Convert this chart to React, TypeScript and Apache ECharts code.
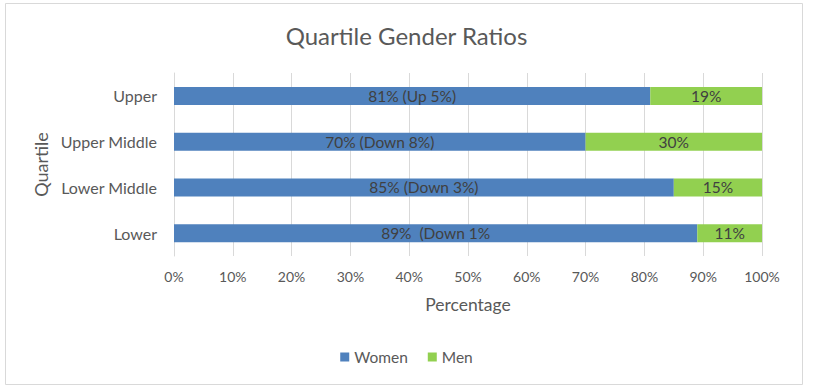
import React, { useEffect, useRef } from "react";
import * as echarts from "echarts";

const categories = ["Upper", "Upper Middle", "Lower Middle", "Lower"];
const womenValues = [81, 70, 85, 89];
const menValues = [19, 30, 15, 11];
const womenLabels = ["81% (Up 5%)", "70% (Down 8%)", "85% (Down 3%)", "89%  (Down 1%"];
const menLabels = ["19%", "30%", "15%", "11%"];
const xTicks = [0, 10, 20, 30, 40, 50, 60, 70, 80, 90, 100];

const FONT = "Lato";
const TXT = "#595959";

export default function App() {
  const ref = useRef<HTMLDivElement>(null);
  useEffect(() => {
    document.body.style.margin = "0";
    const chart = echarts.init(ref.current!, undefined, { renderer: "svg" });
    chart.setOption({
      animation: false,
      backgroundColor: "#ffffff",
      textStyle: { fontFamily: FONT },
      title: {
        text: "Quartile Gender Ratios",
        left: "center",
        top: 18,
        textStyle: { fontFamily: FONT, fontSize: 24, fontWeight: "normal", color: TXT },
      },
      graphic: [
        {
          type: "rect",
          shape: { x: 5.5, y: 3.5, width: 797, height: 381 },
          style: { fill: "none", stroke: "#d9d9d9", lineWidth: 1 },
          silent: true,
        },
      ],
      legend: {
        top: 344,
        left: "center",
        itemWidth: 9,
        itemHeight: 9,
        itemGap: 20,
        icon: "rect",
        textStyle: { fontFamily: FONT, fontSize: 15.5, color: TXT },
        data: ["Women", "Men"],
      },
      grid: { left: 174, right: 51, top: 73, bottom: 135, containLabel: false },
      xAxis: {
        type: "value",
        min: 0,
        max: 100,
        interval: 10,
        name: "Percentage",
        nameLocation: "middle",
        nameGap: 39,
        nameTextStyle: { fontFamily: FONT, fontSize: 17.5, color: TXT },
        axisLine: { show: false },
        axisTick: { show: false },
        axisLabel: {
          margin: 13,
          fontFamily: FONT,
          fontSize: 14,
          color: TXT,
          formatter: (v: number) => (xTicks.includes(v) ? v + "%" : ""),
        },
        splitLine: { show: true, lineStyle: { color: "#d9d9d9", width: 1 } },
      },
      yAxis: {
        type: "category",
        inverse: true,
        data: categories,
        name: "Quartile",
        nameLocation: "middle",
        nameGap: 119,
        nameTextStyle: { fontFamily: FONT, fontSize: 18, color: TXT },
        axisLine: { show: true, lineStyle: { color: "#d9d9d9" } },
        axisTick: { show: false },
        axisLabel: { margin: 17, fontFamily: FONT, fontSize: 16, color: TXT },
      },
      series: [
        {
          name: "Women",
          type: "bar",
          stack: "total",
          barWidth: 18,
          data: womenValues,
          itemStyle: { color: "#4F81BD" },
          label: {
            show: true,
            position: "inside",
            fontFamily: FONT,
            fontSize: 15.5,
            color: "#404040",
            formatter: (p: any) => womenLabels[p.dataIndex],
          },
        },
        {
          name: "Men",
          type: "bar",
          stack: "total",
          barWidth: 18,
          data: menValues,
          itemStyle: { color: "#92D050" },
          label: {
            show: true,
            position: "inside",
            fontFamily: FONT,
            fontSize: 15.5,
            color: "#404040",
            formatter: (p: any) => menLabels[p.dataIndex],
          },
        },
      ],
    });
    return () => chart.dispose();
  }, []);
  return <div ref={ref} style={{ width: 813, height: 391 }} />;
}
